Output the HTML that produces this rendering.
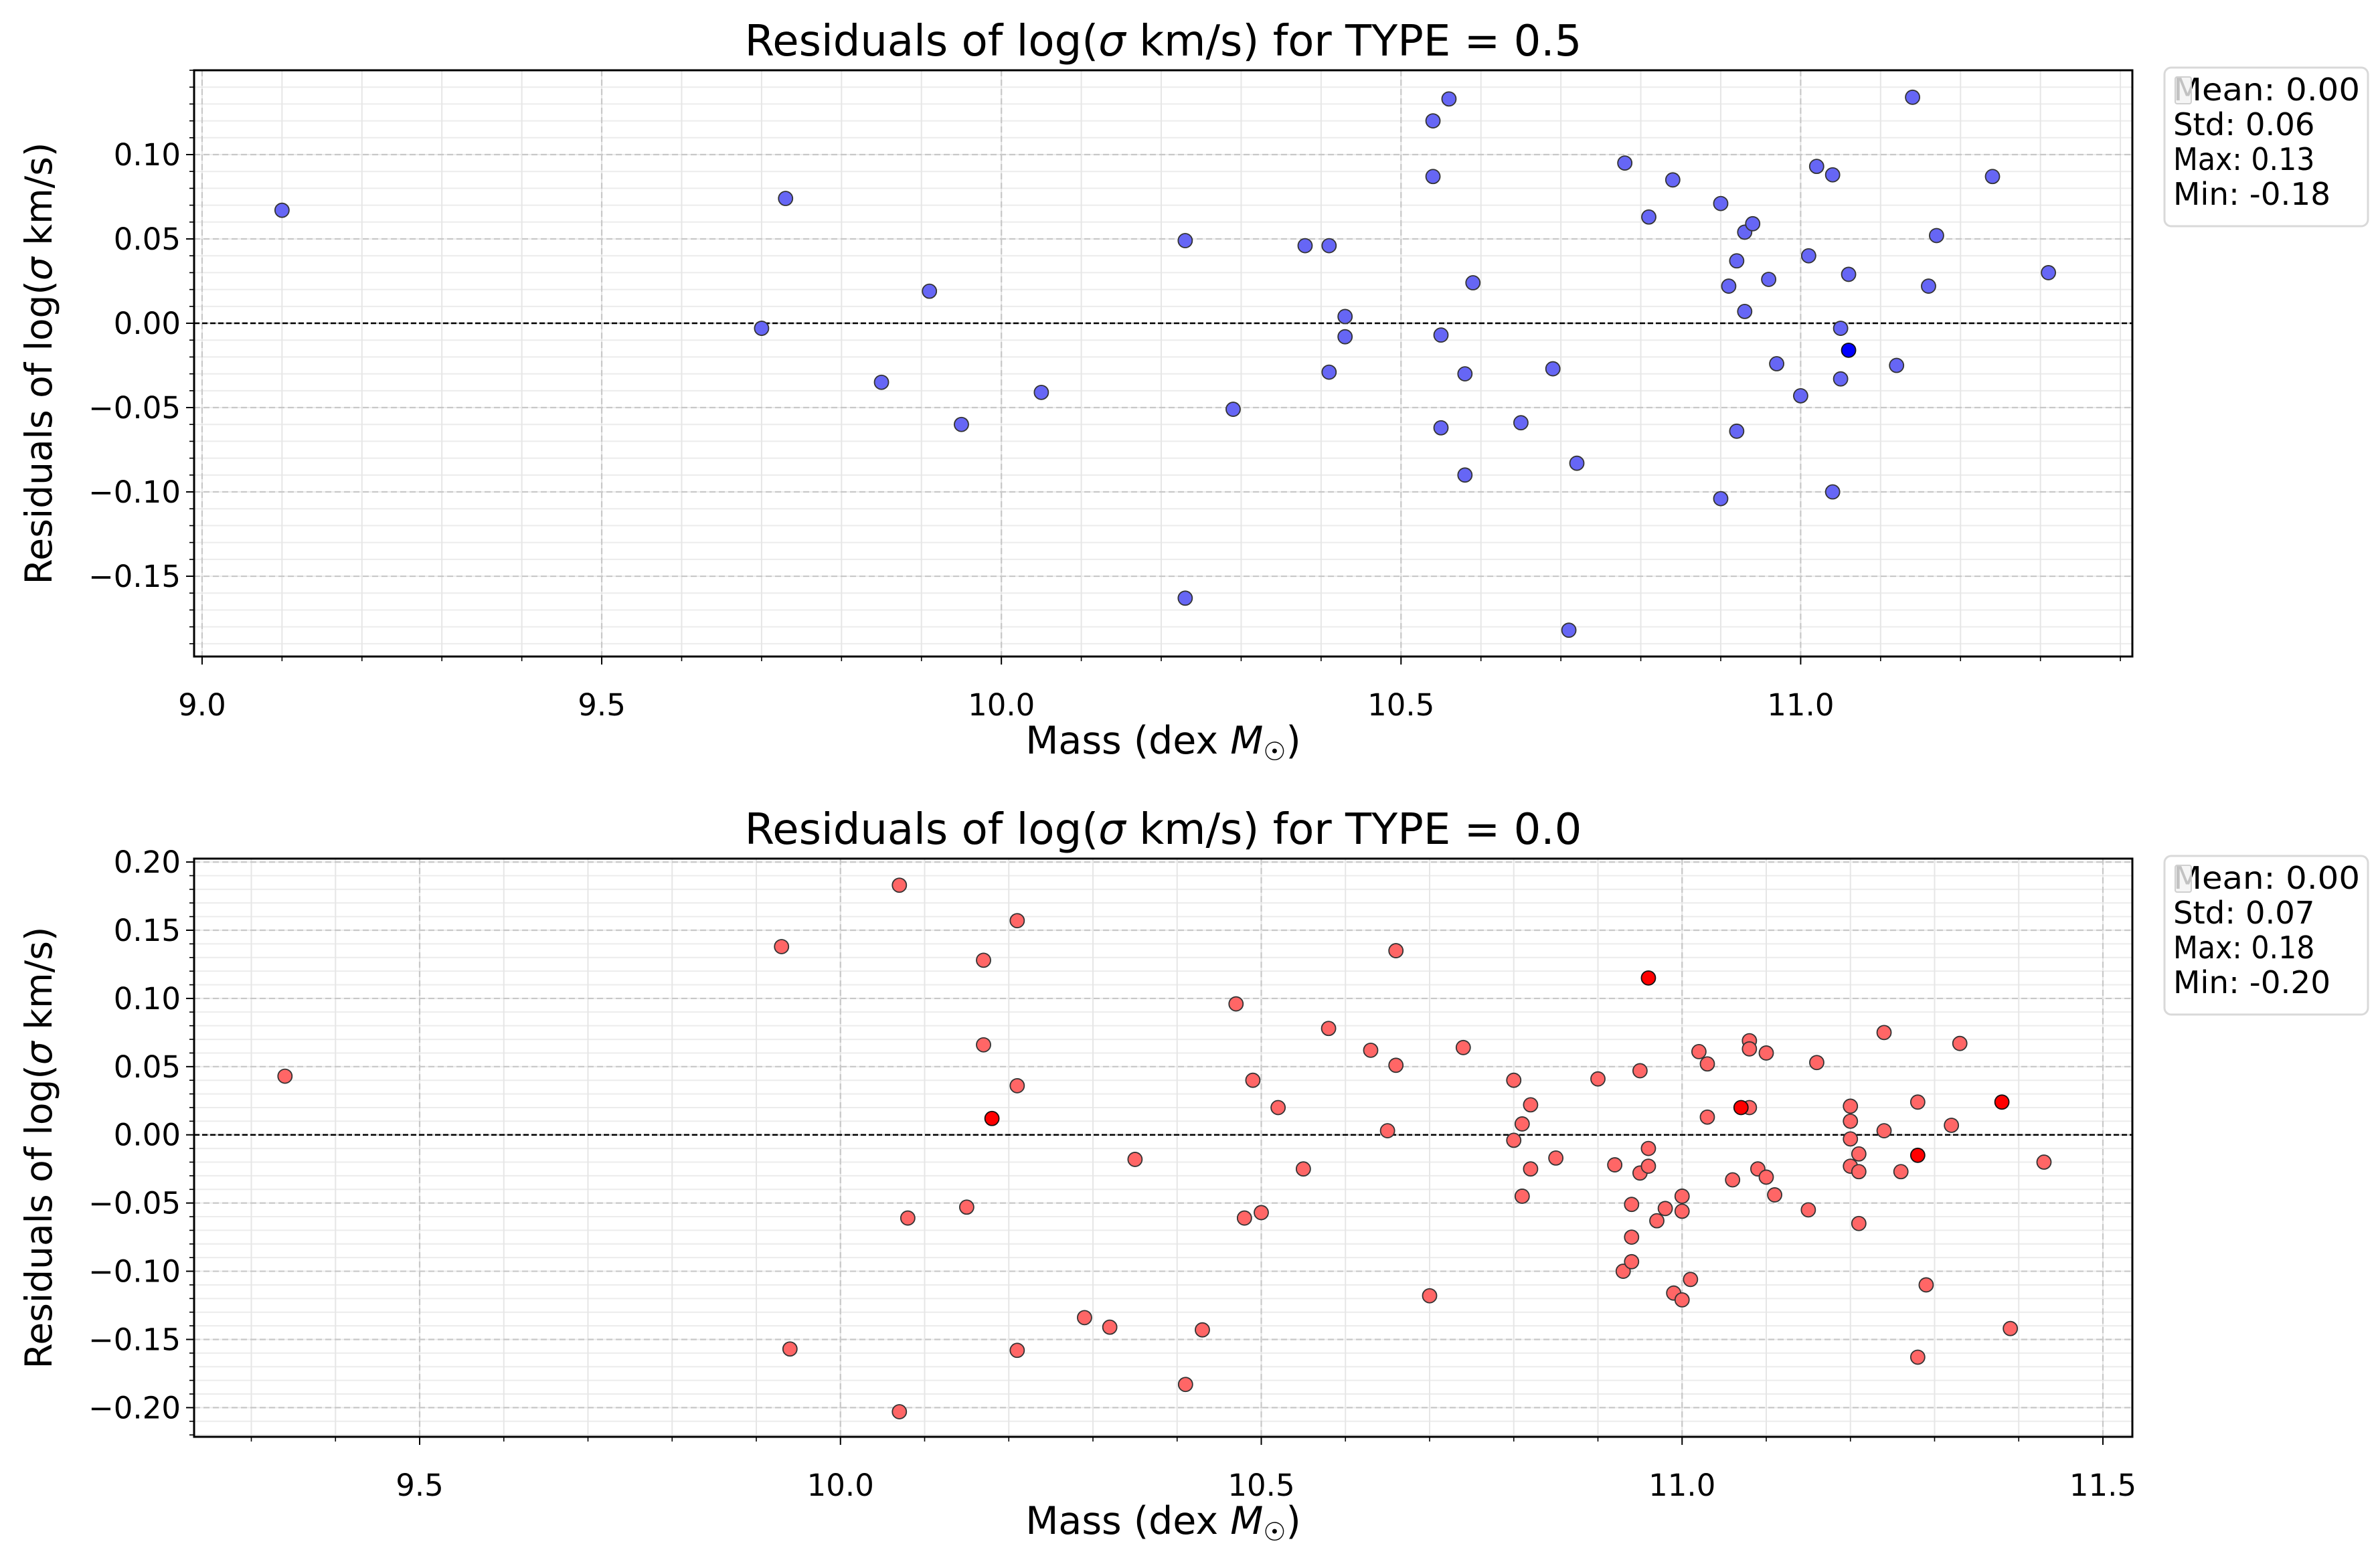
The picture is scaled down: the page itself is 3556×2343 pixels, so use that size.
<!DOCTYPE html>
<html><head><meta charset="utf-8"><style>
html,body{margin:0;padding:0;background:#fff;}
svg{display:block;font-family:"DejaVu Sans","Liberation Sans",sans-serif;}
</style></head><body>
<svg id="fig" width="3556" height="2343" viewBox="0 0 3556 2343" xmlns="http://www.w3.org/2000/svg">
<rect width="3556" height="2343" fill="#fff"/>
</svg>
<script>
// ---- data: top panel (TYPE = 0.5)
const topMass = [9.10,9.73,9.70,9.91,9.85,9.95,10.05,10.23,10.23,10.29,10.38,10.41,10.41,10.43,10.43,10.54,10.56,10.54,10.55,10.55,10.58,10.58,10.59,10.65,10.69,10.72,10.71,10.78,10.81,10.84,10.90,10.90,10.91,10.92,10.92,10.93,10.93,10.94,10.96,10.97,11.00,11.01,11.02,11.04,11.04,11.05,11.05,11.06,11.12,11.14,11.16,11.17,11.24,11.31];
const topResid = [0.067,0.074,-0.003,0.019,-0.035,-0.060,-0.041,0.049,-0.163,-0.051,0.046,0.046,-0.029,0.004,-0.008,0.120,0.133,0.087,-0.007,-0.062,-0.030,-0.090,0.024,-0.059,-0.027,-0.083,-0.182,0.095,0.063,0.085,0.071,-0.104,0.022,0.037,-0.064,0.054,0.007,0.059,0.026,-0.024,-0.043,0.040,0.093,0.088,-0.100,-0.003,-0.033,0.029,-0.025,0.134,0.022,0.052,0.087,0.030];
const topDupMass = [11.06];
const topDupResid = [-0.016];
const topStats = ["Mean: 0.00","Std: 0.06","Max: 0.13","Min: -0.18"];
const topXTicks = [9.0,9.5,10.0,10.5,11.0];
const topXTickLabels = ["9.0","9.5","10.0","10.5","11.0"];
const topYTicks = [-0.15,-0.10,-0.05,0.00,0.05,0.10];
const topYTickLabels = ["\u22120.15","\u22120.10","\u22120.05","0.00","0.05","0.10"];
// ---- data: bottom panel (TYPE = 0.0)
const botMass = [9.34,9.93,9.94,10.07,10.07,10.08,10.15,10.17,10.17,10.21,10.21,10.21,10.29,10.32,10.35,10.41,10.43,10.47,10.48,10.49,10.50,10.52,10.55,10.58,10.63,10.65,10.66,10.66,10.70,10.74,10.80,10.80,10.81,10.81,10.82,10.82,10.85,10.90,10.92,10.93,10.94,10.94,10.94,10.95,10.95,10.96,10.96,10.97,10.98,10.99,11.00,11.00,11.00,11.01,11.02,11.03,11.03,11.06,11.08,11.08,11.08,11.09,11.10,11.10,11.11,11.15,11.16,11.20,11.20,11.20,11.20,11.21,11.21,11.21,11.24,11.24,11.26,11.28,11.28,11.29,11.32,11.33,11.39,11.43];
const botResid = [0.043,0.138,-0.157,0.183,-0.203,-0.061,-0.053,0.128,0.066,0.157,0.036,-0.158,-0.134,-0.141,-0.018,-0.183,-0.143,0.096,-0.061,0.040,-0.057,0.020,-0.025,0.078,0.062,0.003,0.135,0.051,-0.118,0.064,0.040,-0.004,-0.045,0.008,0.022,-0.025,-0.017,0.041,-0.022,-0.100,-0.051,-0.075,-0.093,0.047,-0.028,-0.010,-0.023,-0.063,-0.054,-0.116,-0.045,-0.056,-0.121,-0.106,0.061,0.052,0.013,-0.033,0.020,0.069,0.063,-0.025,0.060,-0.031,-0.044,-0.055,0.053,0.021,0.010,-0.003,-0.023,-0.014,-0.027,-0.065,0.075,0.003,-0.027,0.024,-0.163,-0.110,0.007,0.067,-0.142,-0.020];
const botDupMass = [10.18,10.96,11.07,11.28,11.38];
const botDupResid = [0.012,0.115,0.020,-0.015,0.024];
const botStats = ["Mean: 0.00","Std: 0.07","Max: 0.18","Min: -0.20"];
const botXTicks = [9.5,10.0,10.5,11.0,11.5];
const botXTickLabels = ["9.5","10.0","10.5","11.0","11.5"];
const botYTicks = [-0.20,-0.15,-0.10,-0.05,0.00,0.05,0.10,0.15,0.20];
const botYTickLabels = ["\u22120.20","\u22120.15","\u22120.10","\u22120.05","0.00","0.05","0.10","0.15","0.20"];

const NS="http://www.w3.org/2000/svg";
const svg=document.getElementById('fig');
function mk(tag,attrs,parent){const e=document.createElementNS(NS,tag);for(const k in attrs)e.setAttribute(k,attrs[k]);(parent||svg).appendChild(e);return e;}

function panel(o){
  const g=mk('g',{});
  
  
  const L=290,R=3186,T=o.top,B=o.bottom;
  const sx=v=>L+(v-o.xmin)/(o.xmax-o.xmin)*(R-L);
  const sy=v=>B-(v-o.ymin)/(o.ymax-o.ymin)*(B-T);
  for(let k=Math.ceil(o.ymin*100);k<=Math.floor(o.ymax*100);k++){
    const y=sy(k/100);
    const ln=mk('line',{x1:L,x2:R,y1:y,y2:y,stroke:'#ececec','stroke-width':2},g);
    
    
    mk('line',{x1:L-7,x2:L,y1:y,y2:y,stroke:'#000','stroke-width':1.6},g);
  }
  for(let k=Math.ceil(o.xmin*10);k<=Math.floor(o.xmax*10);k++){
    const x=sx(k/10);
    const ln=mk('line',{x1:x,x2:x,y1:T,y2:B,stroke:'#e6e6e6','stroke-width':2},g);
    
    
    mk('line',{x1:x,x2:x,y1:B,y2:B+7,stroke:'#000','stroke-width':1.6},g);
  }
  o.yt.forEach((v,i)=>{
    const y=sy(v);
    mk('line',{x1:L,x2:R,y1:y,y2:y,stroke:'#c8c8c8','stroke-width':2.2,'stroke-dasharray':'9,5'},g);
    mk('line',{x1:L-12,x2:L,y1:y,y2:y,stroke:'#000','stroke-width':2},g);
    const t=mk('text',{x:L-20,y:y+16,'text-anchor':'end','font-size':45,fill:'#000'},g);
    t.textContent=o.ytl[i];
    
    
  });
  o.xt.forEach((v,i)=>{
    const x=sx(v);
    mk('line',{x1:x,x2:x,y1:T,y2:B,stroke:'#c8c8c8','stroke-width':2.2,'stroke-dasharray':'9,5'},g);
    mk('line',{x1:x,x2:x,y1:B,y2:B+12,stroke:'#000','stroke-width':2},g);
    const t=mk('text',{x:x,y:B+88,'text-anchor':'middle','font-size':45,fill:'#000'},g);
    t.textContent=o.xtl[i];
    
    
  });
  const z=mk('line',{x1:L,x2:R,y1:sy(0),y2:sy(0),stroke:'#000','stroke-width':2.5,'stroke-dasharray':'8,4'},g);
  
  
  o.xs.forEach((v,i)=>{
    const c=mk('circle',{cx:sx(v),cy:sy(o.ys[i]),r:10.5,fill:o.fill,stroke:'#333','stroke-width':1.8},g);
    
    
  });
  o.dx.forEach((v,i)=>{
    const c=mk('circle',{cx:sx(v),cy:sy(o.dy[i]),r:10.5,fill:o.dark,stroke:'#111','stroke-width':1.8},g);
    
    
  });
  const f=mk('rect',{x:L,y:T,width:R-L,height:B-T,fill:'none',stroke:'#000','stroke-width':3},g);
  
  
  const tt=mk('text',{x:(L+R)/2,y:T-22,'text-anchor':'middle','font-size':64,fill:'#000'},g);
  tt.innerHTML='Residuals of log(<tspan font-style="italic">σ</tspan> km/s) for TYPE = '+o.type;
  
  
  const xl=mk('text',{x:(L+R)/2,y:B+145,'text-anchor':'middle','font-size':57,fill:'#000'},g);
  xl.innerHTML='Mass (dex <tspan font-style="italic">M</tspan><tspan font-size="38" dy="10">☉</tspan><tspan dy="-10">)</tspan>';
  
  
  const cy=(T+B)/2;
  const yl=mk('text',{x:58,y:cy,'text-anchor':'middle','font-size':55,fill:'#000',transform:'rotate(-90 58 '+cy+')'},g);
  yl.setAttribute('dominant-baseline','central');
  yl.innerHTML='Residuals of log(<tspan font-style="italic">σ</tspan> km/s)';
  
  
  const lg=mk('g',{},g);
  
  
  mk('rect',{x:3234,y:T-4,width:304,height:237,rx:10,fill:'#fff',stroke:'#d9d9d9','stroke-width':3},lg);
  o.stats.forEach((s,i)=>{
    const t=mk('text',{x:3247,y:T+45+i*52,'font-size':46,fill:'#000'},lg);
    t.setAttribute('textLength',i==0?279:(s.length*23.5));
    t.setAttribute('lengthAdjust','spacingAndGlyphs');
    t.textContent=s;
    
    
  });
  mk('rect',{x:3250,y:T+10,width:24,height:40,rx:3,fill:'#f2f2f2','fill-opacity':0.8,stroke:'#cfcfcf','stroke-width':2},lg);
}
panel({name:'top-panel-type-0.5',top:105,bottom:981,xmin:8.99,xmax:11.415,ymin:-0.1976,ymax:0.150,
  xt:topXTicks,xtl:topXTickLabels,yt:topYTicks,ytl:topYTickLabels,xs:topMass,ys:topResid,dx:topDupMass,dy:topDupResid,
  fill:'#6666f5',dark:'#0000ff',stats:topStats,type:'0.5'});
panel({name:'bottom-panel-type-0.0',top:1283,bottom:2147,xmin:9.232,xmax:11.535,ymin:-0.2214,ymax:0.2025,
  xt:botXTicks,xtl:botXTickLabels,yt:botYTicks,ytl:botYTickLabels,xs:botMass,ys:botResid,dx:botDupMass,dy:botDupResid,
  fill:'#ff6666',dark:'#ff0000',stats:botStats,type:'0.0'});
</script>
</body></html>
